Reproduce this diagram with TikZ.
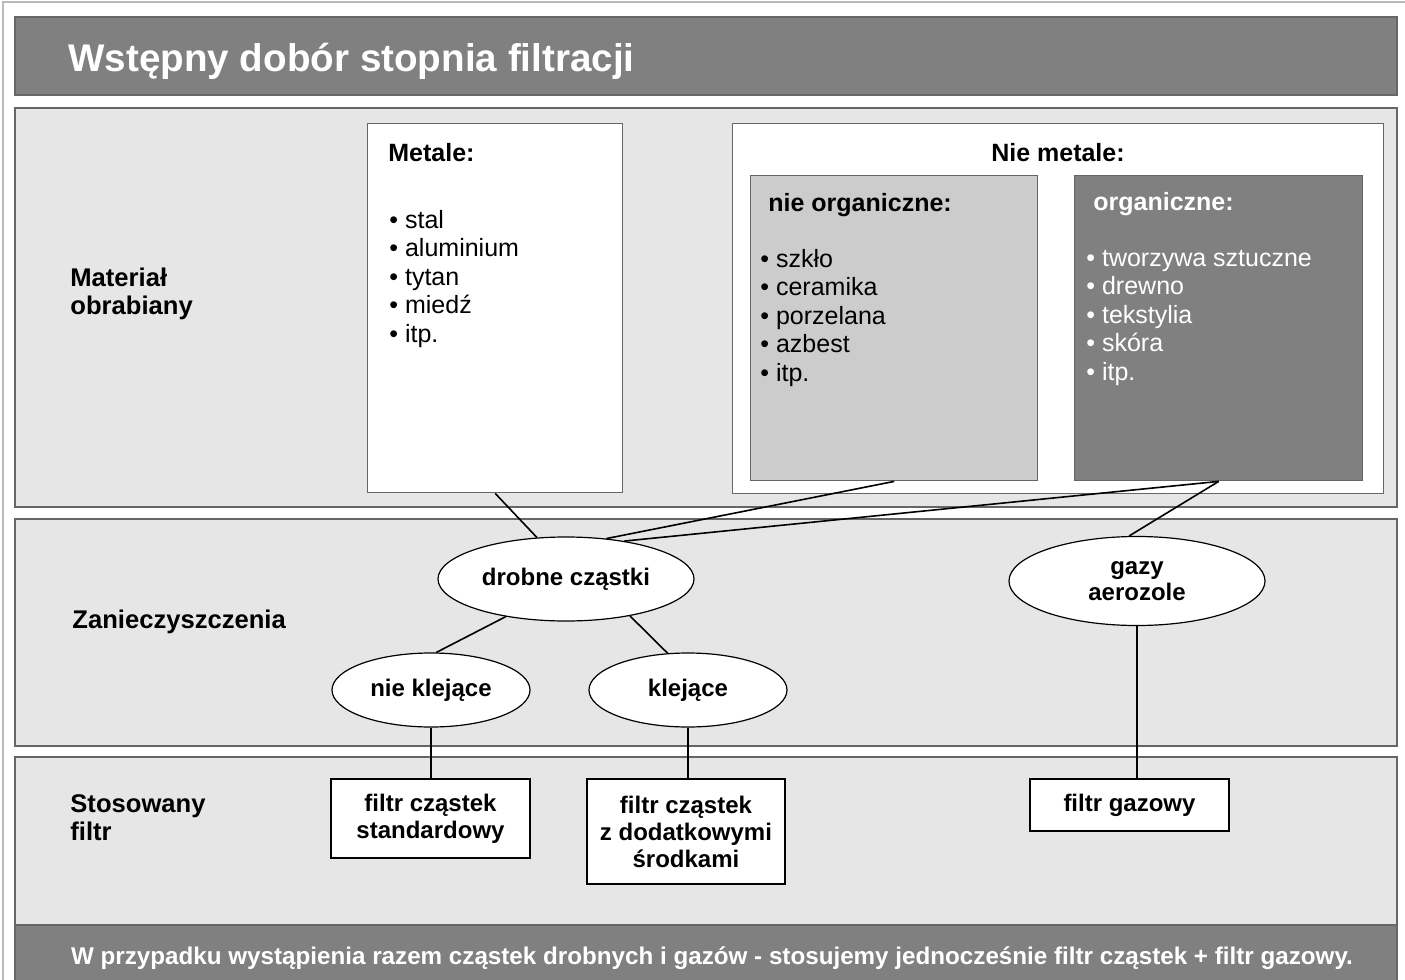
\documentclass[tikz,border=0pt]{standalone}
\usepackage{fontspec}
\setmainfont{Liberation Sans}
\usetikzlibrary{shapes.geometric}
\definecolor{bandgray}{HTML}{E6E6E6}
\definecolor{darkband}{HTML}{808080}
\definecolor{edgegray}{HTML}{666666}
\definecolor{midgray}{HTML}{CCCCCC}
\begin{document}
\begin{tikzpicture}[x=0.5pt,y=-0.5pt,
  band/.style={draw=edgegray, fill=bandgray, line width=0.8pt},
  darkbar/.style={draw=edgegray, fill=darkband, line width=0.8pt},
  panel/.style={draw=edgegray, line width=0.7pt, rectangle, anchor=north west, inner sep=0pt},
  txt/.style={anchor=base west, inner sep=0pt, font=\fontsize{12.5}{14}\selectfont},
  hdr/.style={anchor=base west, inner sep=0pt, font=\bfseries\fontsize{12.5}{14}\selectfont},
  rowlab/.style={anchor=base west, inner sep=0pt, font=\bfseries\fontsize{12.8}{14}\selectfont},
  oval/.style={ellipse, draw=black, fill=white, line width=0.6pt, inner sep=0pt, align=center, font=\bfseries\fontsize{12}{13}\selectfont},
  fbox/.style={rectangle, draw=black, fill=white, line width=0.6pt, inner sep=0pt, align=center, font=\bfseries\fontsize{12}{13.5}\selectfont},
  link/.style={line width=0.8pt, draw=black}]

\useasboundingbox (0,0) rectangle (1405,980);
\fill[white] (0,0) rectangle (1405,980);
\draw[gray!55, line width=0.6pt] (3,990) -- (3,2) -- (1410,2);

% bands
\draw[darkbar] (15,17) rectangle (1397,95);
\draw[band] (15,108) rectangle (1397,507);
\draw[band] (15,519) rectangle (1397,746);
\draw[band] (15,757) rectangle (1397,925);
\draw[darkbar] (15,925) rectangle (1397,995);

% title and footer
\node[anchor=base west, inner sep=0pt, text=white, font=\bfseries\fontsize{19.3}{22}\selectfont] (title) at (68,71) {Wstępny dobór stopnia filtracji};
\node[anchor=base, inner sep=0pt, text=white, font=\bfseries\fontsize{12.1}{14}\selectfont] (footer) at (712,964) {W przypadku wystąpienia razem cząstek drobnych i gazów - stosujemy jednocześnie filtr cząstek + filtr gazowy.};

% row labels
\node[rowlab] (lab1a) at (70,286) {Materiał};
\node[rowlab] (lab1b) at (70,314) {obrabiany};
\node[rowlab] (lab2) at (72,628) {Zanieczyszczenia};
\node[rowlab] (lab3a) at (70,812) {Stosowany};
\node[rowlab] (lab3b) at (70,840) {filtr};

% material panels
\node[panel, fill=white, minimum width=127.5pt, minimum height=184.5pt] (metale) at (367,123) {};
\node[panel, fill=white, minimum width=325.5pt, minimum height=185pt] (niemet) at (732,123) {};
\node[panel, fill=midgray, minimum width=143.5pt, minimum height=152.5pt] (nieorg) at (750,175) {};
\node[panel, fill=darkband, minimum width=144pt, minimum height=152.5pt] (org) at (1074,175) {};

\node[hdr] (metaleh) at (388,161) {Metale:};
\foreach \t [count=\i] in {stal, aluminium, tytan, miedź, itp.}
  \node[txt] (m\i) at (389,{228+28.5*(\i-1)}) {• \t};

\node[anchor=base, inner sep=0pt, font=\bfseries\fontsize{12.5}{14}\selectfont] (niemeth) at (1058,161) {Nie metale:};
\node[hdr] (nieorgh) at (768,211) {nie organiczne:};
\foreach \t [count=\i] in {szkło, ceramika, porzelana, azbest, itp.}
  \node[txt] (n\i) at (760,{267+28.6*(\i-1)}) {• \t};

\node[hdr, text=white] (orgh) at (1093,210) {organiczne:};
\foreach \t [count=\i] in {tworzywa sztuczne, drewno, tekstylia, skóra, itp.}
  \node[txt, text=white] (o\i) at (1086,{266+28.6*(\i-1)}) {• \t};

% contaminants
\node[oval, minimum width=128pt, minimum height=42pt] (drobne) at (566,579) {drobne cząstki};
\node[oval, minimum width=128pt, minimum height=44.5pt] (gazy) at (1137,581) {gazy\\aerozole};
\node[oval, minimum width=99pt, minimum height=37pt] (nk) at (431,690) {nie klejące};
\node[oval, minimum width=99pt, minimum height=37pt] (kl) at (688,690) {klejące};

% filters
\node[fbox, minimum width=99.5pt, minimum height=39.5pt] (f1) at (430.5,818.5) {filtr cząstek\\standardowy};
\node[fbox, minimum width=99pt, minimum height=52.5pt] (f2) at (686,831.5) {filtr cząstek\\z dodatkowymi\\środkami};
\node[fbox, minimum width=99.5pt, minimum height=26pt] (f3) at (1129.5,805) {filtr gazowy};

% connectors
\draw[link] (metale.south) -- (drobne.125);
\draw[link] (nieorg.south) -- (drobne.45);
\draw[link] (org.south) -- (drobne.33);
\draw[link] (org.south) -- (gazy.100);
\draw[link] (drobne.212) -- (nk.82);
\draw[link] (drobne.330) -- (kl.119);
\draw[link] (nk.south) -- (nk.south |- f1.north);
\draw[link] (kl.south) -- (kl.south |- f2.north);
\draw[link] (gazy.south) -- (gazy.south |- f3.north);
\end{tikzpicture}
\end{document}
